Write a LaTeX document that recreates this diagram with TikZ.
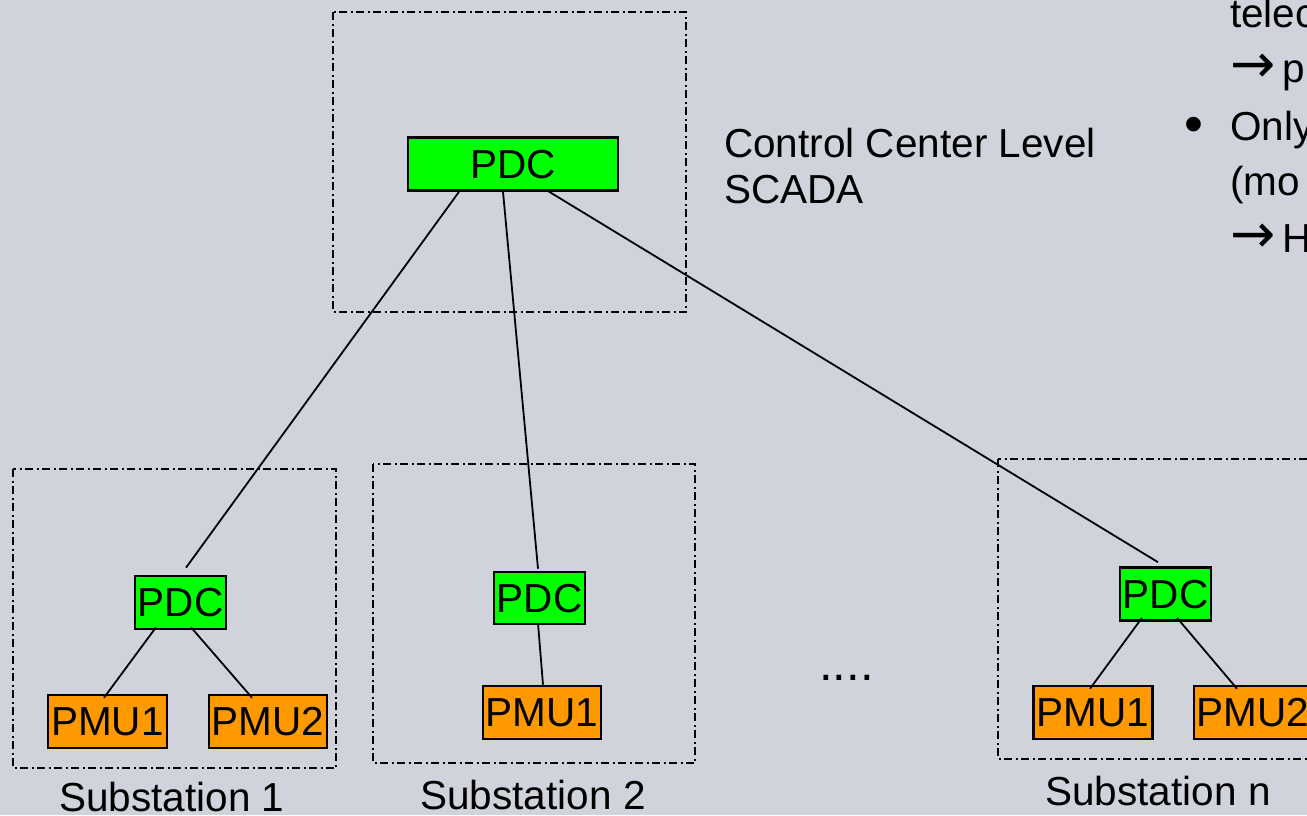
\documentclass[tikz,border=0pt]{standalone}
\usepackage{fontspec}
\setmainfont{Liberation Sans}
\newfontfamily\arrowfont{DejaVu Sans}
\newcommand{\bigarrow}{{\arrowfont\fontsize{54}{54}\selectfont →}}
\definecolor{bg}{RGB}{208,211,219}
\definecolor{pdcgreen}{RGB}{0,255,0}
\definecolor{pmuorange}{RGB}{255,153,0}
\begin{document}
\begin{tikzpicture}[x=1pt,y=-1pt,
  every node/.style={font=\fontsize{40.5}{46}\selectfont, inner sep=0pt, text height=28.6pt, text depth=0pt},
  group/.style={draw=black, line width=2.3pt, dash pattern=on 8pt off 3.5pt on 2pt off 3.5pt},
  pdcbox/.style={draw=black, line width=2.6pt, fill=pdcgreen, minimum height=53pt},
  pmubox/.style={draw=black, line width=2.6pt, fill=pmuorange, minimum height=53pt, minimum width=118pt},
  link/.style={draw=black, line width=1.8pt},
  label/.style={anchor=base west},
  sublabel/.style={anchor=base}
]
\useasboundingbox (0,0) rectangle (1307,815);
\fill[bg] (0,0) rectangle (1307,815);
\clip (0,0) rectangle (1307,815);

% group frames
\draw[group] (333,12) rectangle (686,312);
\draw[group] (13,469) rectangle (336,768);
\draw[group] (373,464) rectangle (695,763);
\draw[group] (998,459) rectangle (1320,759);

% nodes
\node[pdcbox, minimum width=210pt] (cc) at (513,164) {PDC};

\node[pdcbox, minimum width=91pt] (s1pdc) at (180.5,602.5) {PDC};
\node[pmubox, minimum width=119pt] (s1pmu1) at (107.5,721.5) {PMU1};
\node[pmubox] (s1pmu2) at (268,721.5) {PMU2};

\node[pdcbox, minimum width=91pt, minimum height=52pt] (s2pdc) at (539.5,598) {PDC};
\node[pmubox] (s2pmu1) at (542,712.5) {PMU1};

\node[pdcbox, minimum width=91pt] (snpdc) at (1165.5,594) {PDC};
\node[pmubox, minimum width=119pt] (snpmu1) at (1093,712.5) {PMU1};
\node[pmubox] (snpmu2) at (1253,712.5) {PMU2};

% connectors
\draw[link] ([xshift=-54pt]cc.south) -- ([xshift=5.5pt,yshift=7pt]s1pdc.north);
\draw[link] ([xshift=-10pt]cc.south) -- ([xshift=-1.5pt,yshift=2pt]s2pdc.north);
\draw[link] ([xshift=33pt,yshift=2pt]cc.south) -- ([xshift=-7.5pt,yshift=4pt]snpdc.north);

\draw[link] ([xshift=-24.5pt,yshift=3pt]s1pdc.south) -- ([xshift=-3.5pt,yshift=-4pt]s1pmu1.north);
\draw[link] ([xshift=10.5pt,yshift=3pt]s1pdc.south) -- ([xshift=-16pt,yshift=-4pt]s1pmu2.north);
\draw[link] ([xshift=-1.5pt,yshift=2pt]s2pdc.south) -- ([xshift=1pt]s2pmu1.north);
\draw[link] ([xshift=-23.5pt,yshift=4pt]snpdc.south) -- ([xshift=-3pt,yshift=-4pt]snpmu1.north);
\draw[link] ([xshift=11.5pt,yshift=4pt]snpdc.south) -- ([xshift=-16pt,yshift=-4pt]snpmu2.north);

% labels
\node[label] (cclabel1) at (724,157) {Control Center Level};
\node[label] (cclabel2) at (724,203) {SCADA};
\node[sublabel] (sub1) at (172,811) {Substation 1};
\node[sublabel] (sub2) at (533,809) {Substation 2};
\node[sublabel] (subn) at (1158,805) {Substation n};
\node[label, font=\fontsize{49}{49}\selectfont] (dots) at (819,680) {....};

% cropped bullet text on the right
\node[label] (t1) at (1230,27) {telec};
\node[label] (t2) at (1230,82) {\bigarrow\,p};
\node[label, font=\fontsize{54}{54}\selectfont] (t3b) at (1184,142) {•};
\node[label] (t3) at (1230,140) {Only};
\node[label] (t4) at (1230,195) {(mo};
\node[label] (t5) at (1230,252) {\bigarrow\,H};
\end{tikzpicture}
\end{document}
